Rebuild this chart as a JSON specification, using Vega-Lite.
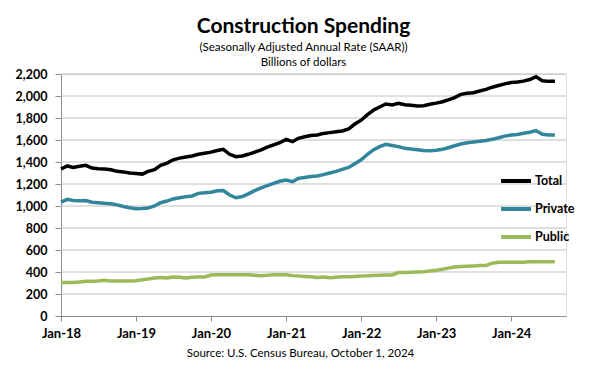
{
  "$schema": "https://vega.github.io/schema/vega-lite/v6.json",
  "width": 505,
  "height": 242,
  "autosize": {"type": "none"},
  "padding": {"left": 61, "top": 74, "right": 34, "bottom": 53},
  "background": "white",
  "title": {
    "text": "Construction  Spending",
    "subtitle": ["(Seasonally Adjusted Annual Rate (SAAR))", "Billions of dollars"],
    "anchor": "middle",
    "dx": -10,
    "offset": 0,
    "font": "Lato",
    "fontSize": 21,
    "fontWeight": "bold",
    "color": "black",
    "subtitleFont": "Lato",
    "subtitleFontSize": 11.5,
    "subtitleColor": "black",
    "subtitleLineHeight": 15,
    "subtitlePadding": 5
  },
  "datasets": {
    "spend": [
      {"date": "2018/01/01", "Total": 1336, "Private": 1035, "Public": 305},
      {"date": "2018/02/01", "Total": 1364, "Private": 1060, "Public": 305},
      {"date": "2018/03/01", "Total": 1351, "Private": 1050, "Public": 305},
      {"date": "2018/04/01", "Total": 1362, "Private": 1048, "Public": 310},
      {"date": "2018/05/01", "Total": 1370, "Private": 1050, "Public": 315},
      {"date": "2018/06/01", "Total": 1345, "Private": 1035, "Public": 315},
      {"date": "2018/07/01", "Total": 1338, "Private": 1030, "Public": 318},
      {"date": "2018/08/01", "Total": 1336, "Private": 1024, "Public": 325},
      {"date": "2018/09/01", "Total": 1330, "Private": 1020, "Public": 318},
      {"date": "2018/10/01", "Total": 1315, "Private": 1010, "Public": 318},
      {"date": "2018/11/01", "Total": 1310, "Private": 995, "Public": 318},
      {"date": "2018/12/01", "Total": 1300, "Private": 985, "Public": 318},
      {"date": "2019/01/01", "Total": 1295, "Private": 976, "Public": 320},
      {"date": "2019/02/01", "Total": 1290, "Private": 978, "Public": 330},
      {"date": "2019/03/01", "Total": 1315, "Private": 981, "Public": 336},
      {"date": "2019/04/01", "Total": 1330, "Private": 1000, "Public": 345},
      {"date": "2019/05/01", "Total": 1370, "Private": 1030, "Public": 350},
      {"date": "2019/06/01", "Total": 1390, "Private": 1045, "Public": 345},
      {"date": "2019/07/01", "Total": 1420, "Private": 1064, "Public": 355},
      {"date": "2019/08/01", "Total": 1435, "Private": 1075, "Public": 352},
      {"date": "2019/09/01", "Total": 1445, "Private": 1085, "Public": 345},
      {"date": "2019/10/01", "Total": 1454, "Private": 1091, "Public": 352},
      {"date": "2019/11/01", "Total": 1470, "Private": 1115, "Public": 355},
      {"date": "2019/12/01", "Total": 1480, "Private": 1121, "Public": 355},
      {"date": "2020/01/01", "Total": 1490, "Private": 1125, "Public": 372},
      {"date": "2020/02/01", "Total": 1505, "Private": 1139, "Public": 375},
      {"date": "2020/03/01", "Total": 1515, "Private": 1140, "Public": 375},
      {"date": "2020/04/01", "Total": 1470, "Private": 1100, "Public": 376},
      {"date": "2020/05/01", "Total": 1448, "Private": 1075, "Public": 376},
      {"date": "2020/06/01", "Total": 1455, "Private": 1085, "Public": 376},
      {"date": "2020/07/01", "Total": 1470, "Private": 1110, "Public": 376},
      {"date": "2020/08/01", "Total": 1490, "Private": 1140, "Public": 370},
      {"date": "2020/09/01", "Total": 1510, "Private": 1165, "Public": 366},
      {"date": "2020/10/01", "Total": 1535, "Private": 1185, "Public": 370},
      {"date": "2020/11/01", "Total": 1555, "Private": 1205, "Public": 376},
      {"date": "2020/12/01", "Total": 1575, "Private": 1225, "Public": 376},
      {"date": "2021/01/01", "Total": 1606, "Private": 1236, "Public": 374},
      {"date": "2021/02/01", "Total": 1585, "Private": 1221, "Public": 367},
      {"date": "2021/03/01", "Total": 1615, "Private": 1251, "Public": 364},
      {"date": "2021/04/01", "Total": 1630, "Private": 1260, "Public": 360},
      {"date": "2021/05/01", "Total": 1640, "Private": 1268, "Public": 356},
      {"date": "2021/06/01", "Total": 1645, "Private": 1273, "Public": 350},
      {"date": "2021/07/01", "Total": 1660, "Private": 1285, "Public": 354},
      {"date": "2021/08/01", "Total": 1667, "Private": 1300, "Public": 348},
      {"date": "2021/09/01", "Total": 1675, "Private": 1315, "Public": 352},
      {"date": "2021/10/01", "Total": 1682, "Private": 1333, "Public": 356},
      {"date": "2021/11/01", "Total": 1700, "Private": 1350, "Public": 356},
      {"date": "2021/12/01", "Total": 1745, "Private": 1385, "Public": 360},
      {"date": "2022/01/01", "Total": 1780, "Private": 1420, "Public": 364},
      {"date": "2022/02/01", "Total": 1830, "Private": 1470, "Public": 365},
      {"date": "2022/03/01", "Total": 1870, "Private": 1510, "Public": 368},
      {"date": "2022/04/01", "Total": 1900, "Private": 1539, "Public": 370},
      {"date": "2022/05/01", "Total": 1927, "Private": 1561, "Public": 372},
      {"date": "2022/06/01", "Total": 1918, "Private": 1550, "Public": 373},
      {"date": "2022/07/01", "Total": 1933, "Private": 1540, "Public": 395},
      {"date": "2022/08/01", "Total": 1920, "Private": 1524, "Public": 395},
      {"date": "2022/09/01", "Total": 1915, "Private": 1518, "Public": 398},
      {"date": "2022/10/01", "Total": 1909, "Private": 1512, "Public": 400},
      {"date": "2022/11/01", "Total": 1912, "Private": 1505, "Public": 403},
      {"date": "2022/12/01", "Total": 1925, "Private": 1503, "Public": 410},
      {"date": "2023/01/01", "Total": 1935, "Private": 1506, "Public": 415},
      {"date": "2023/02/01", "Total": 1948, "Private": 1515, "Public": 425},
      {"date": "2023/03/01", "Total": 1965, "Private": 1530, "Public": 435},
      {"date": "2023/04/01", "Total": 1985, "Private": 1548, "Public": 445},
      {"date": "2023/05/01", "Total": 2015, "Private": 1564, "Public": 450},
      {"date": "2023/06/01", "Total": 2025, "Private": 1575, "Public": 452},
      {"date": "2023/07/01", "Total": 2030, "Private": 1582, "Public": 455},
      {"date": "2023/08/01", "Total": 2045, "Private": 1588, "Public": 458},
      {"date": "2023/09/01", "Total": 2060, "Private": 1595, "Public": 460},
      {"date": "2023/10/01", "Total": 2080, "Private": 1606, "Public": 480},
      {"date": "2023/11/01", "Total": 2095, "Private": 1620, "Public": 488},
      {"date": "2023/12/01", "Total": 2110, "Private": 1635, "Public": 488},
      {"date": "2024/01/01", "Total": 2122, "Private": 1645, "Public": 488},
      {"date": "2024/02/01", "Total": 2127, "Private": 1650, "Public": 488},
      {"date": "2024/03/01", "Total": 2135, "Private": 1661, "Public": 488},
      {"date": "2024/04/01", "Total": 2150, "Private": 1670, "Public": 494},
      {"date": "2024/05/01", "Total": 2175, "Private": 1685, "Public": 494},
      {"date": "2024/06/01", "Total": 2139, "Private": 1652, "Public": 494},
      {"date": "2024/07/01", "Total": 2133, "Private": 1645, "Public": 494},
      {"date": "2024/08/01", "Total": 2133, "Private": 1645, "Public": 494}
    ],
    "gridvals": [
      {"g": 200}, {"g": 400}, {"g": 600}, {"g": 800}, {"g": 1000}, {"g": 1200},
      {"g": 1400}, {"g": 1600}, {"g": 1800}, {"g": 2000}, {"g": 2200}
    ]
  },
  "layer": [
    {
      "data": {"name": "gridvals"},
      "mark": {"type": "rule", "color": "#bfbfbf", "strokeWidth": 1},
      "encoding": {
        "y": {
          "field": "g",
          "type": "quantitative",
          "scale": {"domain": [0, 2200], "nice": false},
          "axis": {
            "values": [0, 200, 400, 600, 800, 1000, 1200, 1400, 1600, 1800, 2000, 2200],
            "format": ",.0f",
            "title": null,
            "grid": false,
            "domainColor": "#8c8c8c",
            "tickColor": "#8c8c8c",
            "tickSize": 6,
            "labelFont": "Lato",
            "labelFontSize": 12.5,
            "labelFontWeight": "bold",
            "labelColor": "black",
            "labelPadding": 8
          }
        }
      }
    },
    {
      "data": {"name": "spend"},
      "transform": [{"fold": ["Total", "Private", "Public"], "as": ["series", "value"]}],
      "mark": {"type": "line", "strokeWidth": 3.5},
      "encoding": {
        "x": {
          "field": "date",
          "type": "temporal",
          "scale": {"domain": ["2018/01/01", "2024/09/24"]},
          "axis": {
            "values": ["2018/01/01", "2019/01/01", "2020/01/01", "2021/01/01", "2022/01/01", "2023/01/01", "2024/01/01"],
            "format": "%b-%y",
            "grid": false,
            "domainColor": "#8c8c8c",
            "tickColor": "#8c8c8c",
            "tickSize": 5,
            "labelFlush": false,
            "labelOverlap": false,
            "labelFont": "Lato",
            "labelFontSize": 13,
            "labelFontWeight": "bold",
            "labelColor": "black",
            "labelPadding": 6,
            "title": "Source: U.S. Census Bureau, October 1, 2024",
            "titleFont": "Lato",
            "titleFontSize": 11.5,
            "titleFontWeight": "normal",
            "titleColor": "black",
            "titleX": 239,
            "titleY": 37,
            "titleBaseline": "middle"
          }
        },
        "y": {
          "field": "value",
          "type": "quantitative",
          "scale": {"domain": [0, 2200], "nice": false},
          "axis": {
            "values": [0, 200, 400, 600, 800, 1000, 1200, 1400, 1600, 1800, 2000, 2200],
            "format": ",.0f",
            "title": null,
            "grid": false,
            "domainColor": "#8c8c8c",
            "tickColor": "#8c8c8c",
            "tickSize": 6,
            "labelFont": "Lato",
            "labelFontSize": 12.5,
            "labelFontWeight": "bold",
            "labelColor": "black",
            "labelPadding": 8
          }
        },
        "color": {
          "field": "series",
          "type": "nominal",
          "scale": {"domain": ["Total", "Private", "Public"], "range": ["#000000", "#31859c", "#9bbb59"]},
          "legend": {
            "orient": "none",
            "legendX": 438,
            "legendY": 90,
            "title": null,
            "padding": 0,
            "symbolType": "stroke",
            "symbolSize": 900,
            "symbolStrokeWidth": 4,
            "rowPadding": 3,
            "labelFont": "Lato",
            "labelFontSize": 12.5,
            "labelFontWeight": "bold",
            "labelColor": "black",
            "labelOffset": 2
          }
        }
      }
    }
  ]
}
